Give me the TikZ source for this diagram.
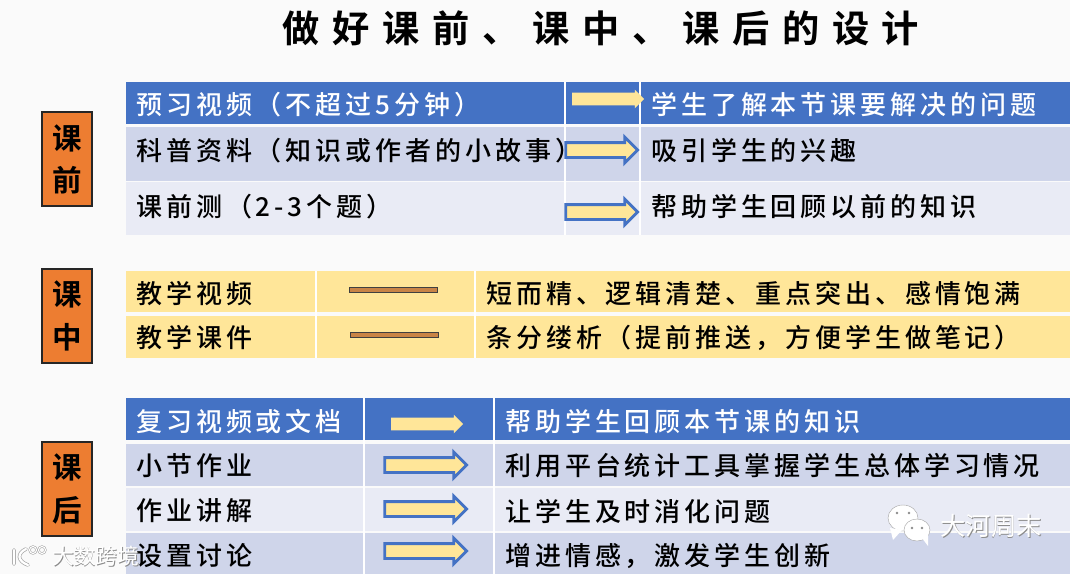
\documentclass[tikz,border=0pt]{standalone}
\usepackage{fontspec}
\usetikzlibrary{shapes.arrows}
\newfontfamily\cjk[LetterSpace=15]{Noto Sans CJK SC Medium}
\newfontfamily\cjktitle[LetterSpace=34]{Noto Sans CJK SC Bold}
\newfontfamily\cjkbadge{Noto Sans CJK SC Bold}
\newfontfamily\cjkmark{Noto Sans CJK SC}
\definecolor{bgpage}{HTML}{FAFAFA}
\definecolor{rowblue}{HTML}{4472C4}
\definecolor{rowmid}{HTML}{CFD5EA}
\definecolor{rowpale}{HTML}{E9EBF5}
\definecolor{rowgold}{HTML}{FFE699}
\definecolor{badgeorange}{HTML}{ED7D31}
\definecolor{barbrown}{HTML}{C98446}
\begin{document}
\begin{tikzpicture}
[x=0.025cm, y=-0.025cm, font=\cjk\fontsize{18.5}{22}\selectfont]
\tikzstyle{rowtext}=[anchor=west, inner sep=0mm, text=black]
\tikzstyle{headtext}=[rowtext, text=white]
\tikzstyle{badge}=[draw=black!85, line width=1pt, fill=badgeorange, minimum width=1.25cm, minimum height=2.35cm, align=center, inner sep=0mm, font=\cjkbadge\fontsize{21}{30}\selectfont]
\tikzstyle{sepline}=[white, line width=1pt]
\tikzstyle{arrowhead}=[single arrow, fill=rowgold, inner sep=0.15cm, single arrow head extend=0.075cm, minimum height=1.8cm, minimum width=0.45cm]
\tikzstyle{arrowbody}=[single arrow, draw=rowblue, line width=2pt, fill=rowgold, inner sep=0.15cm, single arrow head extend=0.14cm, minimum height=1.8cm, minimum width=0.58cm]
\tikzstyle{barlink}=[draw=black!75, fill=barbrown, line width=0.5pt, minimum width=2.2cm, minimum height=0.13cm, inner sep=0mm]
\tikzstyle{marktext}=[inner sep=0mm, text=white, font=\cjkmark\fontsize{18}{22}\selectfont]
\tikzstyle{markshade}=[marktext, text=black!45]

\useasboundingbox (0,0) rectangle (1080,574);
\fill[bgpage] (0,0) rectangle (1080,574);
\fill[white] (1070,0) rectangle (1080,574);

\fill[rowblue] (126,82)  rectangle (1070,124);
\fill[rowmid]  (126,127) rectangle (1070,181);
\fill[rowpale] (126,182) rectangle (1070,235);
\fill[rowgold] (126,271) rectangle (1070,312);
\fill[rowgold] (126,316) rectangle (1070,358);
\fill[rowblue] (126,398) rectangle (1070,440);
\fill[rowmid]  (126,444) rectangle (1070,486);
\fill[rowpale] (126,488) rectangle (1070,531);
\fill[rowmid]  (126,533) rectangle (1070,574);

\draw[sepline] (565,82)  -- (565,235);
\draw[sepline] (640,82)  -- (640,235);
\draw[sepline] (316,271) -- (316,358);
\draw[sepline] (475,271) -- (475,358);
\draw[sepline] (364,398) -- (364,574);
\draw[sepline] (494,398) -- (494,574);

\node[inner sep=0mm, font=\cjktitle\fontsize{26.5}{30}\selectfont] (title) at (601,28) {做好课前、课中、课后的设计};

\node[badge] (before) at (67,159) {课\\前};
\node[badge] (during) at (67,316) {课\\中};
\node[badge] (after)  at (67,489) {课\\后};

\node[headtext] (P1) at (136,105) {预习视频（不超过5分钟）};
\node[rowtext]  (P2) at (136,151) {科普资料（知识或作者的小故事）};
\node[rowtext]  (P3) at (136,207) {课前测（2-3个题）};
\node[headtext] (Q1) at (651,105) {学生了解本节课要解决的问题};
\node[rowtext]  (Q2) at (651,151) {吸引学生的兴趣};
\node[rowtext]  (Q3) at (651,207) {帮助学生回顾以前的知识};

\node[rowtext]  (M1) at (136,294) {教学视频};
\node[rowtext]  (M2) at (136,338) {教学课件};
\node[rowtext]  (N1) at (486,294) {短而精、逻辑清楚、重点突出、感情饱满};
\node[rowtext]  (N2) at (486,338) {条分缕析（提前推送，方便学生做笔记）};

\node[headtext] (R1) at (136,422) {复习视频或文档};
\node[rowtext]  (R2) at (136,466) {小节作业};
\node[rowtext]  (R3) at (136,511) {作业讲解};
\node[rowtext]  (R4) at (136,556) {设置讨论};
\node[headtext] (S1) at (505,422) {帮助学生回顾本节课的知识};
\node[rowtext]  (S2) at (505,466) {利用平台统计工具掌握学生总体学习情况};
\node[rowtext]  (S3) at (505,511) {让学生及时消化问题};
\node[rowtext]  (S4) at (505,556) {增进情感，激发学生创新};

\node[arrowhead] (A1) at (605,99)  {};
\node[arrowbody] (A2) at (598,150) {};
\node[arrowbody] (A3) at (598,212) {};
\node[arrowhead] (A4) at (424,424) {};
\node[arrowbody, minimum height=2.05cm] (A5) at (422,465) {};
\node[arrowbody, minimum height=2.05cm] (A6) at (422,509) {};
\node[arrowbody, minimum height=2.05cm] (A7) at (422,551) {};

\node[barlink] (B1) at (393,290) {};
\node[barlink] (B2) at (394,335) {};

\fill[white, draw=black!35, line width=0.3pt] (903,518) ellipse (15 and 13);
\fill[white] (890,528) -- (893,540) -- (902,530) -- cycle;
\fill[white, draw=black!35, line width=0.3pt] (917,530) ellipse (13 and 11);
\fill[white] (922,538) -- (928,546) -- (928,534) -- cycle;
\fill[black!45] (897,513) circle (1.3) (909,513) circle (1.3) (912,528) circle (1.3) (922,528) circle (1.3);
\node[markshade] (shade1) at (991.7,526.7) {大河周末};
\node[marktext] (mark1) at (991,526) {大河周末};

\draw[black!35, line width=2.6pt, line cap=round] (14,550) -- (14,564) (26,549) .. controls (17,553) and (17,561) .. (28,565);
\draw[white, line width=1.6pt, line cap=round] (14,550) -- (14,564) (26,549) .. controls (17,553) and (17,561) .. (28,565);
\draw[black!35, line width=1.6pt] (33,550) circle (3.5) (42,550) circle (3.5);
\draw[white, line width=0.8pt] (33,550) circle (3.5) (42,550) circle (3.5);
\node[markshade, font=\cjkmark\fontsize{15.5}{20}\selectfont] (shade2) at (96.7,556.7) {大数跨境};
\node[marktext, font=\cjkmark\fontsize{15.5}{20}\selectfont] (mark2) at (96,556) {大数跨境};
\end{tikzpicture}
\end{document}
